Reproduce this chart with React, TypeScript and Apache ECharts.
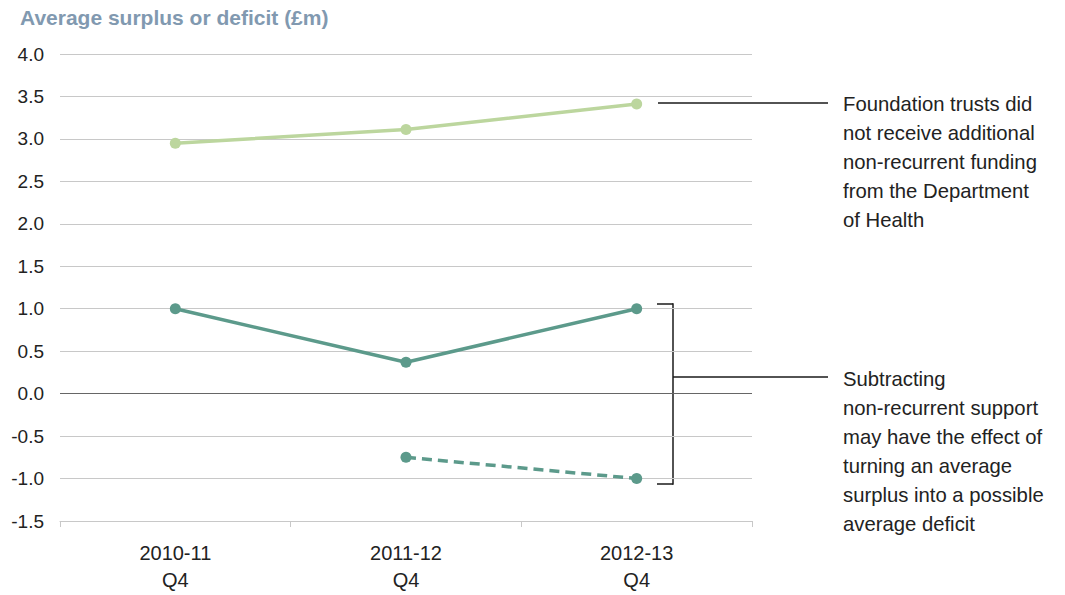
import React, { useEffect, useRef } from "react";
import * as echarts from "echarts";

const categories = ["2010-11\nQ4", "2011-12\nQ4", "2012-13\nQ4"];
const withFunding = [2.95, 3.11, 3.41];
const withSupport = [1.0, 0.37, 1.0];
const withoutSupport = [null, -0.75, -1.0];
const yMin = -1.5;
const yMax = 4.0;
const yInterval = 0.5;

const note1 = [
  "Foundation trusts did",
  "not receive additional",
  "non-recurrent funding",
  "from the Department",
  "of Health",
];
const note2 = [
  "Subtracting",
  "non-recurrent support",
  "may have the effect of",
  "turning an average",
  "surplus into a possible",
  "average deficit",
];

const FONT = "'Liberation Sans', Arial, sans-serif";
const LIGHT = "#bcd69e";
const DARK = "#5c9a8b";

export default function App() {
  const ref = useRef<HTMLDivElement>(null);
  useEffect(() => {
    document.body.style.margin = "0";
    if (!ref.current) return;
    const chart = echarts.init(ref.current, undefined, { renderer: "svg" });
    const lineStyleBlack = { stroke: "#1a1a1a", lineWidth: 1.5 };
    const textBlock = (lines: string[], x: number, y: number) => ({
      type: "text",
      left: x,
      top: y,
      style: {
        text: lines.join("\n"),
        fontFamily: FONT,
        fontSize: 20.3,
        lineHeight: 29,
        fill: "#222",
      },
    });
    chart.setOption({
      animation: false,
      title: {
        text: "Average surplus or deficit (£m)",
        left: 20,
        top: 7,
        padding: 0,
        textStyle: {
          fontFamily: FONT,
          fontSize: 21,
          fontWeight: "bold",
          color: "#8199b0",
        },
      },
      grid: { left: 60, right: 313, top: 54, bottom: 74 },
      xAxis: {
        type: "category",
        data: categories,
        boundaryGap: true,
        axisLine: { onZero: false, lineStyle: { color: "#c8c8c8" } },
        axisTick: { show: true, length: 6, lineStyle: { color: "#c8c8c8" } },
        axisLabel: {
          fontFamily: FONT,
          fontSize: 20,
          lineHeight: 27,
          color: "#222",
          margin: 18,
        },
      },
      yAxis: {
        type: "value",
        min: yMin,
        max: yMax,
        interval: yInterval,
        axisLine: { show: false },
        axisTick: { show: false },
        axisLabel: {
          fontFamily: FONT,
          fontSize: 19,
          color: "#222",
          margin: 16,
          formatter: (v: number) => v.toFixed(1),
        },
        splitLine: { lineStyle: { color: "#c8c8c8", width: 1 } },
      },
      series: [
        {
          type: "line",
          data: withFunding,
          symbol: "circle",
          symbolSize: 11,
          itemStyle: { color: LIGHT },
          lineStyle: { color: LIGHT, width: 3.5 },
          z: 3,
        },
        {
          type: "line",
          data: withSupport,
          symbol: "circle",
          symbolSize: 11,
          itemStyle: { color: DARK },
          lineStyle: { color: DARK, width: 3.5 },
          z: 3,
          markLine: {
            silent: true,
            symbol: "none",
            label: { show: false },
            lineStyle: { color: "#666", type: "solid", width: 1.2 },
            data: [{ yAxis: 0 }],
            z: 1,
          },
        },
        {
          type: "line",
          data: withoutSupport,
          symbol: "circle",
          symbolSize: 11,
          itemStyle: { color: DARK },
          lineStyle: { color: DARK, width: 3.5, type: [10, 6] },
          z: 3,
        },
      ],
      graphic: [
        { type: "line", shape: { x1: 658, y1: 103, x2: 828, y2: 103 }, style: lineStyleBlack },
        { type: "line", shape: { x1: 657, y1: 304, x2: 673, y2: 304 }, style: lineStyleBlack },
        { type: "line", shape: { x1: 673, y1: 303.25, x2: 673, y2: 484.75 }, style: lineStyleBlack },
        { type: "line", shape: { x1: 657, y1: 484, x2: 673, y2: 484 }, style: lineStyleBlack },
        { type: "line", shape: { x1: 673, y1: 377, x2: 828, y2: 377 }, style: lineStyleBlack },
        textBlock(note1, 843, 89),
        textBlock(note2, 843, 364),
      ],
    });
    return () => chart.dispose();
  }, []);
  return <div ref={ref} style={{ width: 1065, height: 595 }} />;
}
